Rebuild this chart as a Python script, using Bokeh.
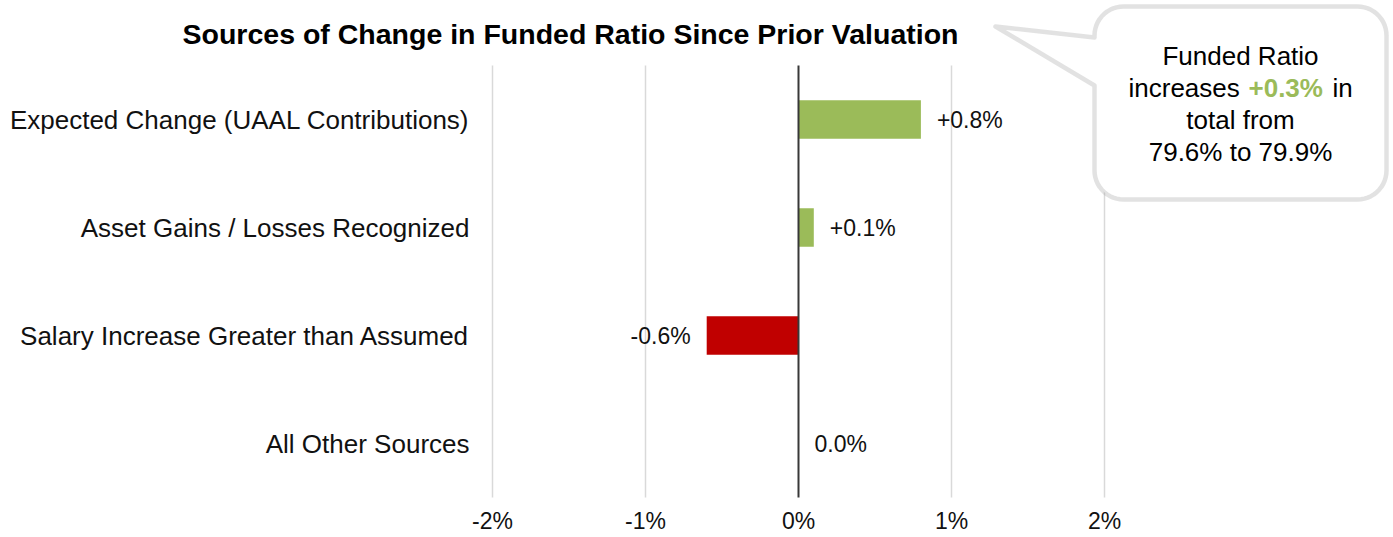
import numpy as np
from bokeh.plotting import figure
from bokeh.models import (ColumnDataSource, Range1d, Label, PolyAnnotation,
                          FixedTicker, LinearAxis)
from bokeh.embed import file_html
from bokeh.resources import INLINE
from bokeh.core.properties import value

# ---------------- data ----------------
title_text = "Sources of Change in Funded Ratio Since Prior Valuation"
categories = ["Expected Change (UAAL Contributions)",
              "Asset Gains / Losses Recognized",
              "Salary Increase Greater than Assumed",
              "All Other Sources"]
changes = [0.8, 0.1, -0.6, 0.0]
x_ticks = [-2, -1, 0, 1, 2]
x_tick_labels = ["-2%", "-1%", "0%", "1%", "2%"]
callout_line1 = "Funded Ratio"
callout_line2 = ["increases", "+0.3%", "in"]
callout_line3 = "total from"
callout_line4 = "79.6% to 79.9%"

# ---------------- style / layout ----------------
FONT = "Liberation Sans"
TXT = "#111111"
GREEN = "#9BBB59"
RED = "#C00000"
GRID = "#d9d9d9"

W, H = 1390, 536
PX_X0, PX_PER_X = 798.0, 153.0        # pixel of 0 %, pixels per 1 %
PX_Y0, PX_PER_Y = 443.0, 108.0        # pixel of last category, pixels per category

ncat = len(categories)
ypos = [ncat - 1 - i for i in range(ncat)]          # top -> bottom
band_lo, band_hi = -0.5, ncat - 0.5

labels = [("+" if v > 0 else "") + f"{v:.1f}%" for v in changes]
src = ColumnDataSource(dict(
    y=ypos,
    val=changes,
    color=[GREEN if v >= 0 else RED for v in changes],
    label=labels,
    xo=[16 if v >= 0 else -16 for v in changes],
    align=["left" if v >= 0 else "right" for v in changes],
))

x_range = Range1d((0 - PX_X0) / PX_PER_X, (W - PX_X0) / PX_PER_X)
y_range = Range1d((PX_Y0 - H) / PX_PER_Y, (PX_Y0 - 0) / PX_PER_Y)

p = figure(width=W, height=H, x_range=x_range, y_range=y_range,
           x_axis_type=None, y_axis_type=None,
           min_border=0, min_border_left=0, min_border_right=0,
           min_border_top=0, min_border_bottom=0,
           output_backend="svg", toolbar_location=None)
p.outline_line_color = None
p.background_fill_color = "white"
p.border_fill_color = "white"
p.xgrid.visible = False
p.ygrid.visible = False

# vertical grid lines (limited to the category bands)
grid_x = [t for t in x_ticks if t != 0]
p.segment(x0=grid_x, x1=grid_x, y0=[band_lo] * len(grid_x),
          y1=[band_hi] * len(grid_x), line_color=GRID, line_width=1.5)

# bars
p.hbar(y="y", left=0, right="val", height=0.355, fill_color="color",
       line_color=None, source=src)

# zero line
p.segment(x0=[0], x1=[0], y0=[band_lo], y1=[band_hi], line_color="#383838",
          line_width=2)

# data labels
p.text(x="val", y="y", text="label", x_offset="xo", text_align="align",
       text_baseline="middle", text_font=value(FONT), text_font_size="23px",
       text_color=TXT, source=src)

# axes (fixed inside the full-canvas frame)
xaxis = LinearAxis(ticker=FixedTicker(ticks=x_ticks), fixed_location=band_lo)
xaxis.major_label_overrides = dict(zip(x_ticks, x_tick_labels))
xaxis.axis_line_color = None
xaxis.major_tick_line_color = None
xaxis.minor_tick_line_color = None
xaxis.major_tick_out = 0
xaxis.major_tick_in = 0
xaxis.major_label_standoff = 10
xaxis.major_label_text_font = FONT
xaxis.major_label_text_font_size = "23px"
xaxis.major_label_text_color = TXT
p.add_layout(xaxis, "below")

yaxis = LinearAxis(ticker=FixedTicker(ticks=ypos), fixed_location=x_ticks[0])
yaxis.major_label_overrides = dict(zip(ypos, categories))
yaxis.axis_line_color = None
yaxis.major_tick_line_color = None
yaxis.minor_tick_line_color = None
yaxis.major_tick_out = 0
yaxis.major_tick_in = 0
yaxis.major_label_standoff = 23
yaxis.major_label_text_font = FONT
yaxis.major_label_text_font_size = "26px"
yaxis.major_label_text_color = TXT
p.add_layout(yaxis, "left")

# title
p.add_layout(Label(x=570, y=33, x_units="canvas", y_units="canvas",
                   text=title_text, text_align="center",
                   text_baseline="alphabetic", text_font=FONT,
                   text_font_size="28.5px", text_font_style="bold",
                   text_color="#000000"))

# callout shape (rounded box with tail)
L, R, T, B, r = 1094, 1386, 6, 199, 29
tip = (995, 26)
base_top, base_bot = 37, 85

def arc(cx, cy, a0, a1, n=14):
    t = np.radians(np.linspace(a0, a1, n))
    return list(cx + r * np.cos(t)), list(cy + r * np.sin(t))

xs, ys = [tip[0], L], [tip[1], base_top]
for cx, cy, a0, a1 in [(L + r, T + r, 180, 270), (R - r, T + r, 270, 360),
                       (R - r, B - r, 0, 90), (L + r, B - r, 90, 180)]:
    ax, ay = arc(cx, cy, a0, a1)
    xs += ax
    ys += ay
xs += [L, tip[0]]
ys += [base_bot, tip[1]]

p.add_layout(PolyAnnotation(xs=xs, ys=ys, xs_units="canvas", ys_units="canvas",
                            fill_color="white", fill_alpha=1.0,
                            line_color="#a0a0a0", line_width=4.5,
                            line_join="round"))

CX = 1240
for txt, y in [(callout_line1, 55), (callout_line3, 119.5), (callout_line4, 151.7)]:
    p.add_layout(Label(x=CX, y=y, x_units="canvas", y_units="canvas", text=txt,
                       text_align="center", text_baseline="alphabetic",
                       text_font=FONT, text_font_size="26px", text_color="#000000"))
for txt, x, col, st in [(callout_line2[0], 1128, "#000000", "normal"),
                        (callout_line2[1], 1248, GREEN, "bold"),
                        (callout_line2[2], 1332, "#000000", "normal")]:
    p.add_layout(Label(x=x, y=87, x_units="canvas", y_units="canvas", text=txt,
                       text_align="left", text_baseline="alphabetic",
                       text_font=FONT, text_font_size="26px", text_color=col,
                       text_font_style=st))

open("out.html", "w").write(file_html(p, INLINE))
